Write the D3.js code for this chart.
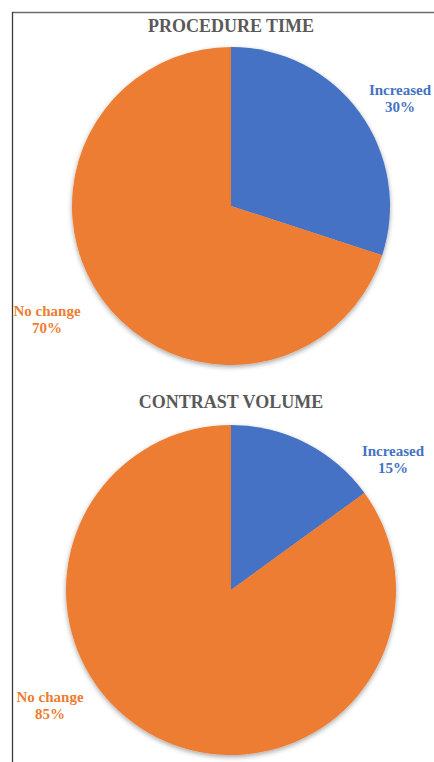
<!DOCTYPE html>
<html>
<head>
<meta charset="utf-8">
<script src="https://cdn.jsdelivr.net/npm/d3@7"></script>
<style>
  html, body { margin: 0; padding: 0; background: #fff; }
  svg { display: block; }
</style>
</head>
<body>
<svg id="chart" width="434" height="762"></svg>
<script>
// Survey outcome categories and their shares (%)
const categories = ["Increased", "No change"];
const procedureTime = [30, 70];
const contrastVolume = [15, 85];
const titles = ["PROCEDURE TIME", "CONTRAST VOLUME"];

const colors = d3.scaleOrdinal().domain(categories).range(["#4472C4", "#ED7D31"]);

const svg = d3.select("#chart");

// Soft drop shadow under each pie
const defs = svg.append("defs");
const f = defs.append("filter").attr("id", "shadow")
  .attr("x", "-10%").attr("y", "-10%").attr("width", "120%").attr("height", "125%");
f.append("feGaussianBlur").attr("in", "SourceAlpha").attr("stdDeviation", 2.5).attr("result", "b");
f.append("feOffset").attr("in", "b").attr("dx", 0).attr("dy", 2).attr("result", "o");
f.append("feComponentTransfer").attr("in", "o").attr("result", "t")
  .append("feFuncA").attr("type", "linear").attr("slope", 0.35);
const fm = f.append("feMerge");
fm.append("feMergeNode").attr("in", "t");
fm.append("feMergeNode").attr("in", "SourceGraphic");

// Frame lines along the top and left
svg.append("line").attr("x1", 12).attr("x2", 434).attr("y1", 12.5).attr("y2", 12.5)
  .attr("stroke", "#6b6b6b").attr("stroke-width", 1.5);
svg.append("line").attr("x1", 12.5).attr("x2", 12.5).attr("y1", 12).attr("y2", 762)
  .attr("stroke", "#3a3a3a").attr("stroke-width", 1.3);

const pie = d3.pie().sort(null).value(d => d.value);

const panels = [
  { title: titles[0], values: procedureTime, cx: 231, cy: 206, r: 159, titleY: 32,
    labels: [{ x: 400, y: 95 }, { x: 47, y: 316 }] },
  { title: titles[1], values: contrastVolume, cx: 231, cy: 590, r: 165, titleY: 408,
    labels: [{ x: 393, y: 456 }, { x: 50, y: 702 }] }
];

const serif = "'Liberation Serif', 'Times New Roman', serif";

panels.forEach(p => {
  const data = categories.map((c, i) => ({ category: c, value: p.values[i] }));
  const arc = d3.arc().innerRadius(0).outerRadius(p.r);

  svg.append("text")
    .attr("x", p.cx).attr("y", p.titleY)
    .attr("text-anchor", "middle")
    .attr("font-family", serif).attr("font-weight", "bold").attr("font-size", 18)
    .attr("fill", "#595959")
    .text(p.title);

  const g = svg.append("g").attr("transform", `translate(${p.cx},${p.cy})`)
    .attr("filter", "url(#shadow)");
  g.selectAll("path").data(pie(data)).join("path")
    .attr("d", arc)
    .attr("fill", d => colors(d.data.category));

  data.forEach((d, i) => {
    const t = svg.append("text")
      .attr("text-anchor", "middle")
      .attr("font-family", serif).attr("font-weight", "bold").attr("font-size", 15)
      .attr("fill", colors(d.category));
    t.append("tspan").attr("x", p.labels[i].x).attr("y", p.labels[i].y).text(d.category);
    t.append("tspan").attr("x", p.labels[i].x).attr("y", p.labels[i].y + 17).text(d.value + "%");
  });
});
</script>
</body>
</html>
